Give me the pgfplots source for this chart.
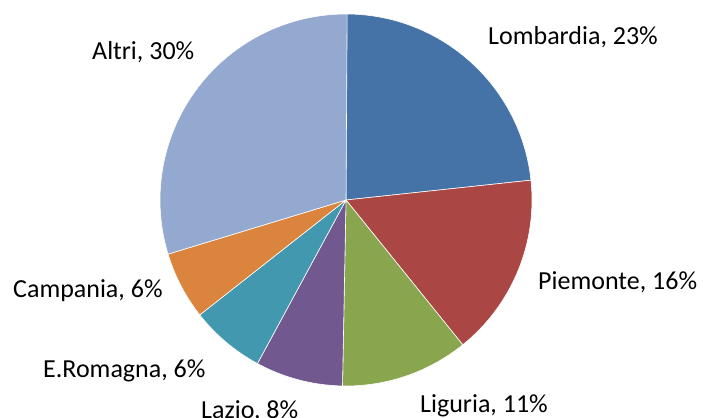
\documentclass[border=0pt]{standalone}
\usepackage{pgfplots}
\usepackage{pgfplotstable}
\pgfplotsset{compat=1.18}
\usepackage{fontspec}
\setmainfont{Carlito}
\definecolor{pie0}{HTML}{4572A7}
\definecolor{pie1}{HTML}{AA4643}
\definecolor{pie2}{HTML}{89A54E}
\definecolor{pie3}{HTML}{71588F}
\definecolor{pie4}{HTML}{4198AF}
\definecolor{pie5}{HTML}{DB843D}
\definecolor{pie6}{HTML}{93A9CF}
\tikzset{lbl/.style={font=\fontsize{26bp}{30bp}\selectfont, text=black, inner sep=0pt, anchor=base west}}
\pgfplotstableread{
name value
Lombardia 23.3
Piemonte 15.9
Liguria 11.1
Lazio 7.6
E.Romagna 6.5
Campania 5.9
Altri 29.8
}\piedata
\begin{document}
\begin{tikzpicture}
\useasboundingbox (0,0) rectangle (703bp,418bp);
% cumulative angles from the data (clockwise from 12 o'clock)
\gdef\cumval{0}
\foreach \i in {0,...,6}{%
  \pgfplotstablegetelem{\i}{value}\of\piedata
  \pgfmathsetmacro\startang{90-\cumval*3.6}%
  \pgfmathsetmacro\newcum{\cumval+\pgfplotsretval}%
  \pgfmathsetmacro\endang{90-\newcum*3.6}%
  \expandafter\xdef\csname sa\i\endcsname{\startang}%
  \expandafter\xdef\csname ea\i\endcsname{\endang}%
  \xdef\cumval{\newcum}%
}
\begin{axis}[
  at={(0,0)}, anchor=south west,
  scale only axis, width=703bp, height=418bp,
  xmin=0, xmax=703, ymin=0, ymax=418,
  hide axis, clip=false,
]
\pgfplotsinvokeforeach{0,...,6}{%
  \fill[pie#1, draw=white, line width=0.6bp, line join=round]
    (axis cs:346,218) -- ++(\csname sa#1\endcsname:186bp)
    arc[start angle=\csname sa#1\endcsname, end angle=\csname ea#1\endcsname, radius=186bp] -- cycle;
}
\node[lbl] at (axis cs:488,373) {Lombardia, 23\%};
\node[lbl] at (axis cs:538,128) {Piemonte, 16\%};
\node[lbl] at (axis cs:420,6) {Liguria, 11\%};
\node[lbl] at (axis cs:201,-0.7) {Lazio, 8\%};
\node[lbl] at (axis cs:43,40) {E.Romagna, 6\%};
\node[lbl] at (axis cs:13,120) {Campania, 6\%};
\node[lbl] at (axis cs:92,358) {Altri, 30\%};
\end{axis}
\end{tikzpicture}
\end{document}
